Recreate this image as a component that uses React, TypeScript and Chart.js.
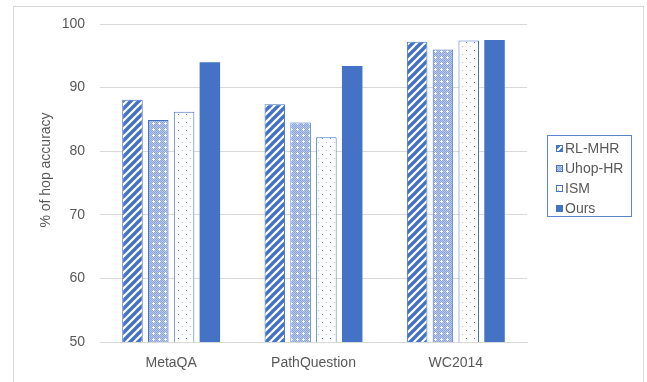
import React, { useEffect, useRef } from 'react';
import { Chart, registerables } from 'chart.js';
Chart.register(...registerables);

const categories = ['MetaQA', 'PathQuestion', 'WC2014'];
const seriesNames = ['RL-MHR', 'Uhop-HR', 'ISM', 'Ours'];
const rlMhr = [88.1, 87.4, 97.2];
const uhopHr = [84.9, 84.5, 96.0];
const ism = [86.2, 82.2, 97.4];
const ours = [94.0, 93.4, 97.5];
const yMin = 50;
const yMax = 100;
const yStep = 10;
const yTitle = '% of hop accuracy';

const BLUE = '#4472C4';
const TEXT = '#595959';
const FONT = "'Liberation Sans', Arial, sans-serif";

function makeTile(size: number, draw: (c: CanvasRenderingContext2D) => void) {
  const cv = document.createElement('canvas');
  cv.width = size;
  cv.height = size;
  const c = cv.getContext('2d')!;
  draw(c);
  return cv;
}

export default function App() {
  const ref = useRef<HTMLCanvasElement | null>(null);
  useEffect(() => {
    const canvas = ref.current!;
    const ctx = canvas.getContext('2d')!;

    const stripeTile = makeTile(8, (c) => {
      c.fillStyle = '#ffffff';
      c.fillRect(0, 0, 8, 8);
      c.strokeStyle = BLUE;
      c.lineWidth = 3.4;
      c.lineCap = 'square';
      const segs = [[-4, 4, 4, -4], [0, 8, 8, 0], [4, 12, 12, 4]];
      for (const s of segs) {
        c.beginPath();
        c.moveTo(s[0], s[1]);
        c.lineTo(s[2], s[3]);
        c.stroke();
      }
    });
    const checkTile = makeTile(6, (c) => {
      c.fillStyle = '#B7C8EB';
      c.fillRect(0, 0, 6, 6);
      c.fillStyle = '#8AA5DB';
      for (let y = 0; y < 6; y++) for (let x = 0; x < 6; x++) if ((x + y) % 2 === 0) c.fillRect(x, y, 1, 1);
      c.fillStyle = '#ffffff';
      c.fillRect(3, 2, 1, 3);
      c.fillRect(2, 3, 3, 1);
    });
    const dotTile = makeTile(8, (c) => {
      c.fillStyle = '#ffffff';
      c.fillRect(0, 0, 8, 8);
      c.fillStyle = BLUE;
      c.fillRect(2, 2, 1, 1);
      c.fillStyle = '#A9BDE6';
      c.fillRect(6, 6, 1, 1);
    });
    const stripe = ctx.createPattern(stripeTile, 'repeat')!;
    const check = ctx.createPattern(checkTile, 'repeat')!;
    const dots = ctx.createPattern(dotTile, 'repeat')!;

    const fills: any[] = [stripe, check, dots, BLUE];
    const values = [rlMhr, uhopHr, ism, ours];

    const deco = {
      id: 'deco',
      beforeDraw(chart: any) {
        const c = chart.ctx;
        c.save();
        c.strokeStyle = '#D9D9D9';
        c.lineWidth = 1;
        c.strokeRect(13.5, 6.5, 630, 420);
        c.restore();
      },
      afterDraw(chart: any) {
        const c = chart.ctx;
        c.save();
        c.translate(46, 170);
        c.rotate(-Math.PI / 2);
        c.fillStyle = TEXT;
        c.font = `14px ${FONT}`;
        c.textAlign = 'center';
        c.textBaseline = 'middle';
        c.fillText(yTitle, 0, 0);
        c.restore();
        c.save();
        c.strokeStyle = '#5F84CC';
        c.lineWidth = 1;
        c.strokeRect(547.5, 135.5, 84, 81);
        c.font = `14px ${FONT}`;
        c.textBaseline = 'middle';
        c.textAlign = 'left';
        seriesNames.forEach((name, i) => {
          const cy = 149 + i * 20;
          c.fillStyle = fills[i];
          c.fillRect(556, cy - 4, 7, 7);
          if (i < 3) {
            c.strokeStyle = BLUE;
            c.strokeRect(556.5, cy - 3.5, 6, 6);
          }
          c.fillStyle = TEXT;
          c.fillText(name, 565, cy + 0.5);
        });
        c.restore();
      },
    };

    const chart = new Chart(canvas, {
      type: 'bar',
      data: {
        labels: categories,
        datasets: seriesNames.map((name, i) => ({
          label: name,
          data: values[i],
          backgroundColor: fills[i],
          borderColor: BLUE,
          borderWidth: i < 3 ? 1 : 0,
          categoryPercentage: 0.725,
          barPercentage: 0.795,
        })),
      },
      options: {
        responsive: false,
        animation: false,
        layout: { padding: { left: 0, top: 24, right: 120, bottom: 0 } },
        plugins: { legend: { display: false }, tooltip: { enabled: false } },
        scales: {
          x: {
            grid: { display: false, drawTicks: false },
            border: { display: true, color: '#D9D9D9' },
            ticks: { color: TEXT, font: { family: FONT, size: 14 }, padding: 13 },
            afterFit: (s: any) => { s.height = 40; },
          },
          y: {
            min: yMin,
            max: yMax,
            grid: { color: '#D9D9D9', drawTicks: false },
            border: { display: false },
            ticks: { stepSize: yStep, color: TEXT, font: { family: FONT, size: 14 }, padding: 15 },
            afterFit: (s: any) => { s.width = 100; },
          },
        },
      },
      plugins: [deco],
    });
    return () => chart.destroy();
  }, []);
  return (
    <div style={{ position: 'absolute', left: 0, top: 0, width: 647, height: 382, background: '#fff' }}>
      <canvas ref={ref} width={647} height={382} style={{ display: 'block' }} />
    </div>
  );
}
